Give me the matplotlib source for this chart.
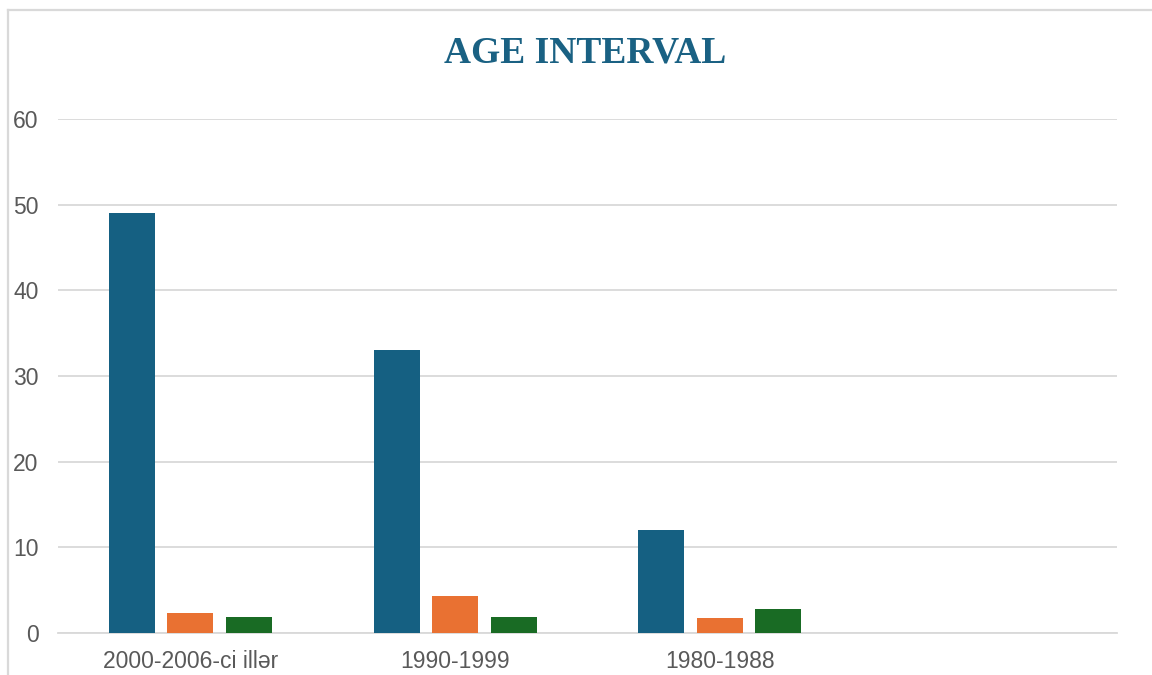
import matplotlib.pyplot as plt
import numpy as np
from matplotlib.lines import Line2D

categories = ["2000-2006-ci illər", "1990-1999", "1980-1988", ""]
series_1 = [49, 33, 12, None]
series_2 = [2.3, 4.3, 1.7, None]
series_3 = [1.9, 1.9, 2.8, None]
colors = ["#156082", "#E97132", "#196B24"]

fig = plt.figure(figsize=(11.52, 6.75), dpi=100)
ax = fig.add_axes([58/1152, 42/675, (1117-58)/1152, (633-119)/675])

x = np.arange(len(categories))
width = 0.174
step = 0.221
for i, (vals, col) in enumerate(zip([series_1, series_2, series_3], colors)):
    v = [np.nan if a is None else a for a in vals]
    ax.bar(x + (i - 1) * step, v, width, color=col, zorder=3)

ax.set_xlim(-0.5, len(categories) - 0.5)
ax.set_ylim(0, 60)
ax.set_yticks(range(0, 61, 10))
ax.set_xticks(x)
ax.set_xticklabels(categories)
ax.grid(axis="y", color="#d9d9d9", linewidth=1.3, zorder=0)
for s in ["top", "right", "left"]:
    ax.spines[s].set_visible(False)
ax.spines["bottom"].set_color("#d9d9d9")
ax.spines["bottom"].set_linewidth(1.3)
ax.tick_params(axis="both", length=0, colors="#595959", labelsize=16.5)
ax.tick_params(axis="y", pad=14)
ax.tick_params(axis="x", pad=12)
for lab in ax.get_xticklabels() + ax.get_yticklabels():
    lab.set_fontfamily("Liberation Sans")

fig.text(585/1152, 1 - 53/675, "AGE INTERVAL", ha="center", va="center",
         fontsize=27, fontweight="bold", family="Liberation Serif", color="#1a6183")

# outer chart border (left and top visible)
fig.add_artist(Line2D([7.5/1152, 7.5/1152], [0, 1 - 9.5/675], transform=fig.transFigure,
                      color="#d9d9d9", linewidth=1.6))
fig.add_artist(Line2D([7.5/1152, 1], [1 - 9.5/675, 1 - 9.5/675], transform=fig.transFigure,
                      color="#d9d9d9", linewidth=1.6))

fig.savefig("out.png", dpi=100)
